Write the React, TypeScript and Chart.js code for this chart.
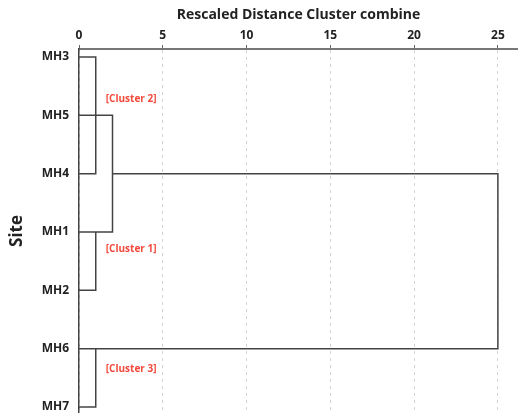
import React, { useEffect, useRef } from "react";
import { Chart, registerables } from "chart.js";

Chart.register(...registerables);

const sites = ["MH3", "MH5", "MH4", "MH1", "MH2", "MH6", "MH7"];
const xTicks = [0, 5, 10, 15, 20, 25];

// dendrogram link paths: [distance, site]
const linkMH3MH4: [number, string][] = [[0, "MH3"], [1, "MH3"], [1, "MH4"], [0, "MH4"]];
const linkMH5MH1: [number, string][] = [[0, "MH5"], [2, "MH5"], [2, "MH1"], [0, "MH1"]];
const linkMH1MH2: [number, string][] = [[1, "MH1"], [1, "MH2"], [0, "MH2"]];
const linkTop: [number, string][] = [[2, "MH4"], [25, "MH4"], [25, "MH6"], [0, "MH6"]];
const linkMH6MH7: [number, string][] = [[1, "MH6"], [1, "MH7"], [0, "MH7"]];
const links = [linkMH3MH4, linkMH5MH1, linkMH1MH2, linkTop, linkMH6MH7];

const clusterNames = ["[Cluster 2]", "[Cluster 1]", "[Cluster 3]"];
const clusterX = [1.6, 1.6, 1.6];
const clusterY = [0.72, 3.29, 5.35];

export default function App() {
  const ref = useRef<HTMLCanvasElement>(null);
  useEffect(() => {
    document.body.style.margin = "0";
    const labelPlugin = {
      id: "clusterLabels",
      afterDatasetsDraw(chart: any) {
        const { ctx, scales } = chart;
        ctx.save();
        ctx.font = "bold 10px 'Open Sans'";
        ctx.fillStyle = "#f24a3d";
        ctx.textAlign = "left";
        ctx.textBaseline = "middle";
        clusterNames.forEach((t, i) => {
          ctx.fillText(t, scales.x.getPixelForValue(clusterX[i]), scales.y.getPixelForValue(clusterY[i]));
        });
        ctx.restore();
      },
    };
    const chart = new Chart(ref.current!, {
      type: "scatter",
      data: {
        datasets: links.map((l) => ({
          data: l.map(([x, s]) => ({ x, y: sites.indexOf(s) })),
          showLine: true,
          pointRadius: 0,
          borderColor: "#444",
          borderWidth: 1.5,
          fill: false,
        })),
      },
      options: {
        animation: false,
        responsive: false,
        layout: { padding: 0 },
        plugins: { legend: { display: false }, tooltip: { enabled: false } },
        scales: {
          x: {
            type: "linear",
            position: "top",
            min: 0,
            max: 26.2,
            afterBuildTicks: (s: any) => {
              s.ticks = xTicks.map((v) => ({ value: v }));
            },
            afterFit: (s: any) => {
              s.height = 49;
              s.paddingLeft = 0;
              s.paddingRight = 0;
            },
            ticks: {
              color: "#222",
              font: { family: "'Open Sans'", weight: "bold", size: 12 },
              padding: 2,
              maxRotation: 0,
            },
            grid: {
              color: "#d2d2d2",
              lineWidth: 1,
              drawTicks: true,
              tickLength: 4,
              tickColor: "#666",
              tickBorderDash: [],
            },
            border: { display: true, color: "#777", width: 2, dash: [3, 4] },
            title: {
              display: true,
              text: "Rescaled Distance Cluster combine",
              color: "#222",
              font: { family: "'Open Sans'", weight: "bold", size: 14 },
              padding: { top: 7, bottom: 2 },
            },
          },
          y: {
            type: "linear",
            reverse: true,
            min: -0.137,
            max: 6.103,
            afterBuildTicks: (s: any) => {
              s.ticks = sites.map((_, i) => ({ value: i }));
            },
            afterFit: (s: any) => {
              s.width = 79;
              s.paddingTop = 0;
              s.paddingBottom = 0;
            },
            ticks: {
              color: "#222",
              font: { family: "'Open Sans'", weight: "bold", size: 12 },
              padding: 10,
              callback: (v: any) => sites[v as number] ?? "",
            },
            grid: { display: false, drawTicks: false },
            border: { display: true, color: "#444", width: 1.5 },
            title: {
              display: true,
              text: "Site",
              color: "#222",
              font: { family: "'Open Sans'", weight: "bold", size: 17 },
              padding: { top: 7, bottom: 0 },
            },
          },
        },
      } as any,
      plugins: [labelPlugin],
    });
    return () => chart.destroy();
  }, []);
  return <canvas ref={ref} width={518} height={413} style={{ display: "block" }} />;
}
